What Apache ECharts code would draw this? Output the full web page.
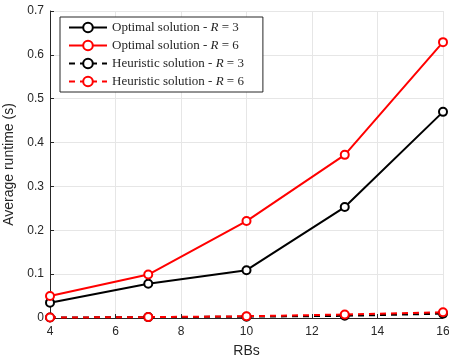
<!DOCTYPE html>
<html><head><meta charset="utf-8">
<script src="https://cdn.jsdelivr.net/npm/echarts@6/dist/echarts.min.js"></script>
<style>html,body{margin:0;padding:0;background:#fff}#c{width:449px;height:362px}</style>
</head><body><div id="c"></div>
<script>
const rbs = [4, 7, 10, 13, 16];
const optR3 = [0.035, 0.078, 0.109, 0.253, 0.470];
const optR6 = [0.050, 0.099, 0.221, 0.372, 0.629];
const heuR3 = [0.001, 0.002, 0.003, 0.005, 0.010];
const heuR6 = [0.001, 0.002, 0.004, 0.008, 0.013];
const names = ['Optimal solution - R = 3','Optimal solution - R = 6','Heuristic solution - R = 3','Heuristic solution - R = 6'];

function mk(name, vals, color, type){
  return {name:name, type:'line', data: rbs.map((x,i)=>[x, vals[i]]),
    symbol:'emptyCircle', symbolSize:8,
    lineStyle:{color:color, width:2, type:type},
    itemStyle:{color:color, borderColor:color, borderWidth:2},
    emphasis:{disabled:true}};
}
const chart = echarts.init(document.getElementById('c'), null, {renderer:'canvas'});
chart.setOption({
  animation:false,
  grid:{left:50, right:6, top:11, bottom:44, containLabel:false, outerBoundsMode:'none'},
  xAxis:{type:'value', min:4, max:16, interval:2,
    name:'RBs', nameLocation:'middle', nameGap:26,
    nameTextStyle:{fontFamily:'Liberation Sans', fontSize:14, color:'#262626'},
    axisLine:{lineStyle:{color:'#262626', width:1}},
    axisTick:{inside:true, length:4, lineStyle:{color:'#262626'}},
    axisLabel:{fontFamily:'Liberation Sans', fontSize:12, color:'#262626', margin:8},
    splitLine:{show:true, lineStyle:{color:'#e6e6e6'}}},
  yAxis:{type:'value', min:0, max:0.7, interval:0.1,
    name:'Average runtime (s)', nameLocation:'middle', nameGap:32,
    nameTextStyle:{fontFamily:'Liberation Sans', fontSize:14, color:'#262626'},
    axisLine:{show:true, lineStyle:{color:'#262626', width:1}},
    axisTick:{show:true, inside:true, length:4, lineStyle:{color:'#262626'}},
    axisLabel:{fontFamily:'Liberation Sans', fontSize:12, color:'#262626', margin:6,
      formatter:v=>String(Math.round(v*10)/10)},
    splitLine:{show:true, lineStyle:{color:'#e6e6e6'}}},
  legend:{orient:'vertical', left:60, top:17, itemGap:5, itemWidth:38, itemHeight:12,
    padding:[4,19,4,8], backgroundColor:'#fff', borderColor:'#262626', borderWidth:1, borderRadius:0,
    textStyle:{fontFamily:'Liberation Serif', fontSize:13, color:'#262626',
      rich:{i:{fontFamily:'Liberation Serif', fontStyle:'italic', fontSize:13, color:'#262626'},
            n:{fontFamily:'Liberation Serif', fontSize:13, color:'#262626'}}},
    formatter:function(name){ const m=name.split(' - R = '); return '{n|'+m[0]+' - }{i|R}{n| = '+m[1]+'}'; },
    data:names},
  series:[
    mk(names[0], optR3, '#000', 'solid'),
    mk(names[1], optR6, '#ff0000', 'solid'),
    mk(names[2], heuR3, '#000', [6,5]),
    mk(names[3], heuR6, '#ff0000', [6,5])
  ]
});
</script></body></html>
